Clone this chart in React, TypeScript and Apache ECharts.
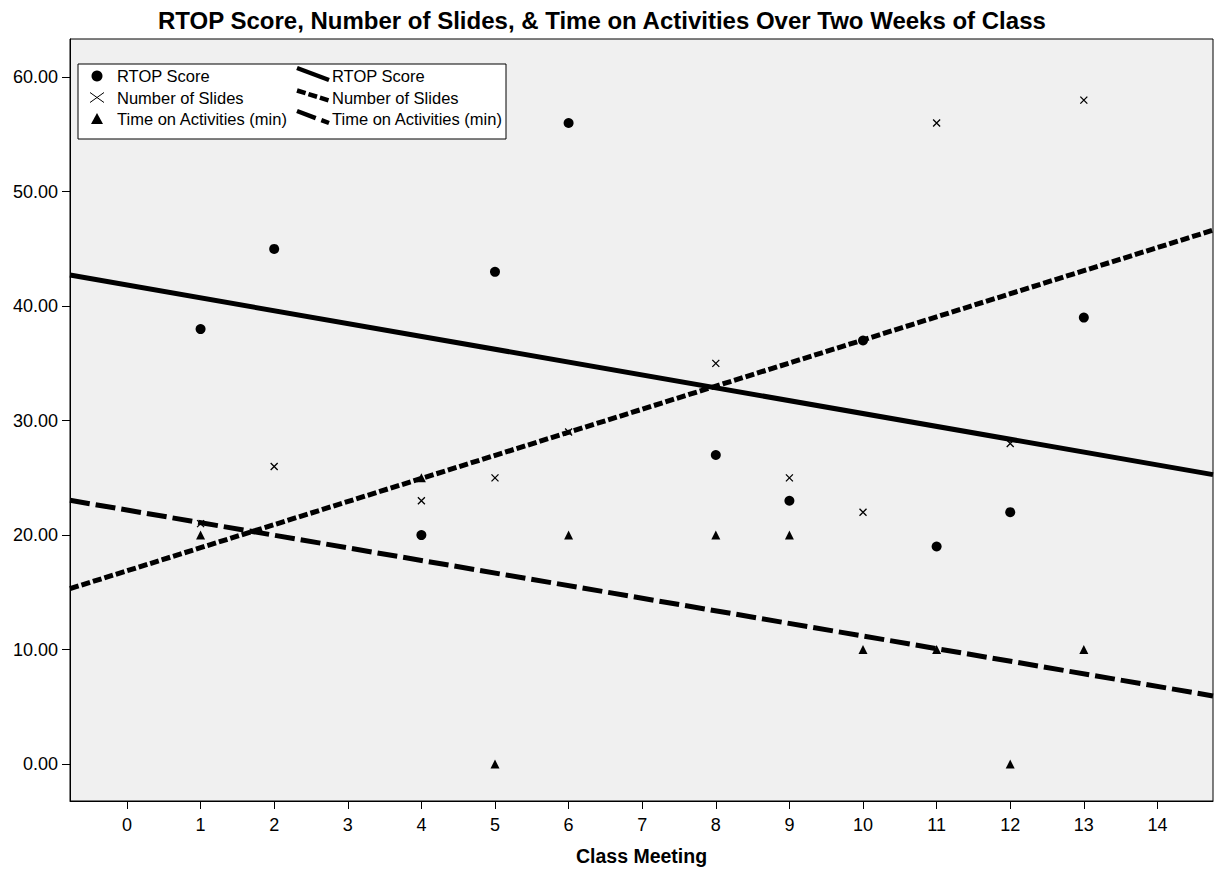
import React, { useEffect, useRef } from "react";
import * as echarts from "echarts";

const titleText = "RTOP Score, Number of Slides, & Time on Activities Over Two Weeks of Class";
const xAxisName = "Class Meeting";
const xTicks = [0, 1, 2, 3, 4, 5, 6, 7, 8, 9, 10, 11, 12, 13, 14];
const yTicks = [0, 10, 20, 30, 40, 50, 60];
const xRange = [-0.774, 14.755];
const yRange = [-3.23, 63.34];

const rtopX = [1, 2, 4, 5, 6, 8, 9, 10, 11, 12, 13];
const rtopY = [38, 45, 20, 43, 56, 27, 23, 37, 19, 22, 39];
const slidesX = [1, 2, 4, 5, 6, 8, 9, 10, 11, 12, 13];
const slidesY = [21, 26, 23, 25, 29, 35, 25, 22, 56, 28, 58];
const timeX = [1, 4, 5, 6, 8, 9, 10, 11, 12, 13];
const timeY = [20, 25, 0, 20, 20, 20, 10, 10, 0, 10];

// fitted lines evaluated at the axis extents
const fitX = [-0.774, 14.755];
const rtopFitY = [42.72, 25.28];
const slidesFitY = [15.32, 46.64];
const timeFitY = [23.04, 5.95];

const seriesNames = ["RTOP Score", "Number of Slides", "Time on Activities (min)"];

const FONT = "'Liberation Sans', Arial, sans-serif";

const zip = (xs: number[], ys: number[]) => xs.map((x, i) => [x, ys[i]]);

export default function App() {
  const ref = useRef<HTMLDivElement>(null);
  useEffect(() => {
    document.body.style.margin = "0";
    const chart = echarts.init(ref.current!, null, { renderer: "svg" });
    const legendText = (x: number, y: number, t: string) => ({
      type: "text",
      x,
      y,
      style: { text: t, fontFamily: FONT, fontSize: 16.5, fill: "#000", verticalAlign: "middle", align: "left" },
      z: 101,
    });
    const rows = [76, 97.5, 119];
    const option: any = {
      animation: false,
      backgroundColor: "#fff",
      title: {
        text: titleText,
        left: 153,
        top: 3,
        textStyle: { fontFamily: FONT, fontWeight: "bold", fontSize: 24, color: "#000" },
      },
      grid: {
        left: 70,
        top: 39,
        right: 3,
        bottom: 69,
        show: true,
        backgroundColor: "#f0f0f0",
        borderColor: "#000",
        borderWidth: 1,
      },
      xAxis: {
        type: "value",
        min: xRange[0],
        max: xRange[1],
        name: xAxisName,
        nameLocation: "middle",
        nameGap: 45,
        nameTextStyle: { fontFamily: FONT, fontWeight: "bold", fontSize: 19.5, color: "#000" },
        axisLine: { show: true, onZero: false, lineStyle: { color: "#000", width: 1 } },
        axisTick: { show: true, length: 8, lineStyle: { color: "#000" }, customValues: xTicks },
        axisLabel: {
          customValues: xTicks,
          fontFamily: FONT,
          fontSize: 18,
          color: "#000",
          margin: 15,
          formatter: (v: number) => String(v),
        },
        splitLine: { show: false },
      },
      yAxis: {
        type: "value",
        min: yRange[0],
        max: yRange[1],
        axisLine: { show: true, onZero: false, lineStyle: { color: "#000", width: 1 } },
        axisTick: { show: true, length: 8, lineStyle: { color: "#000" }, customValues: yTicks },
        axisLabel: {
          customValues: yTicks,
          fontFamily: FONT,
          fontSize: 18,
          color: "#000",
          margin: 12,
          formatter: (v: number) => v.toFixed(2),
        },
        splitLine: { show: false },
      },
      series: [
        {
          name: seriesNames[0],
          type: "scatter",
          data: zip(rtopX, rtopY),
          symbol: "circle",
          symbolSize: 10,
          itemStyle: { color: "#000", opacity: 1 },
          z: 3,
        },
        {
          name: seriesNames[1],
          type: "scatter",
          data: zip(slidesX, slidesY),
          symbol: "path://M0,0L10,10M10,0L0,10",
          symbolSize: 7,
          itemStyle: { color: "rgba(0,0,0,0)", borderColor: "#000", borderWidth: 1.3, opacity: 1 },
          z: 3,
        },
        {
          name: seriesNames[2],
          type: "scatter",
          data: zip(timeX, timeY),
          symbol: "triangle",
          symbolSize: 9,
          itemStyle: { color: "#000", opacity: 1 },
          z: 3,
        },
        {
          name: seriesNames[0] + " fit",
          type: "line",
          data: zip(fitX, rtopFitY),
          symbol: "none",
          lineStyle: { color: "#000", width: 5, type: "solid" },
          z: 4,
        },
        {
          name: seriesNames[1] + " fit",
          type: "line",
          data: zip(fitX, slidesFitY),
          symbol: "none",
          lineStyle: { color: "#000", width: 5, type: [9, 3] },
          z: 4,
        },
        {
          name: seriesNames[2] + " fit",
          type: "line",
          data: zip(fitX, timeFitY),
          symbol: "none",
          lineStyle: { color: "#000", width: 5, type: [20, 6] },
          z: 4,
        },
      ],
      graphic: [
        {
          type: "rect",
          shape: { x: 78, y: 64, width: 428, height: 75 },
          style: { fill: "#fff", stroke: "#000", lineWidth: 1 },
          z: 100,
        },
        { type: "circle", shape: { cx: 97, cy: rows[0], r: 5.5 }, style: { fill: "#000" }, z: 101 },
        { type: "line", shape: { x1: 90, y1: rows[1] - 5, x2: 104, y2: rows[1] + 5 }, style: { stroke: "#000", lineWidth: 1 }, z: 101 },
        { type: "line", shape: { x1: 90, y1: rows[1] + 5, x2: 104, y2: rows[1] - 5 }, style: { stroke: "#000", lineWidth: 1 }, z: 101 },
        {
          type: "polygon",
          shape: { points: [[97, rows[2] - 6], [103, rows[2] + 5], [91, rows[2] + 5]] },
          style: { fill: "#000" },
          z: 101,
        },
        legendText(117, rows[0], seriesNames[0]),
        legendText(117, rows[1], seriesNames[1]),
        legendText(117, rows[2], seriesNames[2]),
        { type: "line", shape: { x1: 297, y1: rows[0] - 8, x2: 329, y2: rows[0] + 4 }, style: { stroke: "#000", lineWidth: 4.5 }, z: 101 },
        { type: "line", shape: { x1: 297, y1: rows[1] - 7, x2: 329, y2: rows[1] + 3 }, style: { stroke: "#000", lineWidth: 4.5, lineDash: [9, 3] }, z: 101 },
        { type: "line", shape: { x1: 297, y1: rows[2] - 8, x2: 329, y2: rows[2] + 4 }, style: { stroke: "#000", lineWidth: 4.5, lineDash: [20, 6] }, z: 101 },
        legendText(332, rows[0], seriesNames[0]),
        legendText(332, rows[1], seriesNames[1]),
        legendText(332, rows[2], seriesNames[2]),
      ],
    };
    chart.setOption(option);
    return () => chart.dispose();
  }, []);
  return <div ref={ref} style={{ width: 1216, height: 871 }} />;
}
